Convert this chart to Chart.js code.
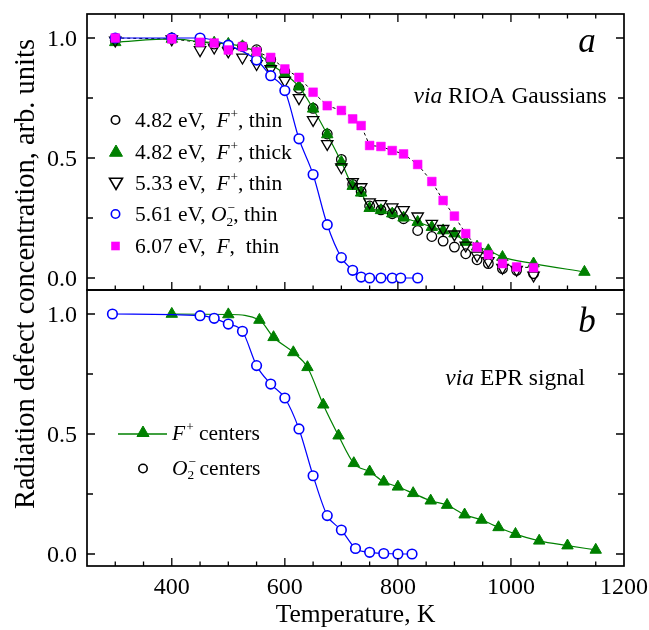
<!DOCTYPE html>
<html><head><meta charset="utf-8">
<script src="https://cdn.jsdelivr.net/npm/chart.js@4.4.1/dist/chart.umd.min.js"></script>
<style>
html,body{margin:0;padding:0;background:#fff;}
#wrap{position:relative;width:649px;height:630px;background:#fff;}
canvas{position:absolute;left:0;top:0;}
</style></head>
<body><div id="wrap"><canvas id="cb" width="649" height="630"></canvas><canvas id="ca" width="649" height="630"></canvas></div>
<script>
// ---------- data (panel a: RIOA Gaussians) ----------
const tCircThin = [300,400,450,475,500,525,550,575,600,625,650,675,700,720,735,750,770,790,810,835,860,880,900,920,940,960,985,1010,1040];
const vCircThin = [0.99,1.0,0.99,0.975,0.97,0.965,0.951,0.91,0.86,0.79,0.707,0.60,0.494,0.39,0.36,0.30,0.284,0.268,0.247,0.198,0.173,0.154,0.129,0.101,0.076,0.06,0.039,0.032,0.018];

const tTriThick = [300,400,450,475,500,525,550,575,600,625,650,675,700,720,735,750,770,790,810,835,860,880,900,920,940,960,985,1040,1130];
const vTriThick = [0.982,0.996,0.985,0.98,0.975,0.965,0.94,0.892,0.85,0.797,0.705,0.598,0.483,0.383,0.355,0.291,0.282,0.268,0.251,0.233,0.212,0.198,0.185,0.15,0.13,0.115,0.087,0.06,0.025];

const tDownThin = [300,400,450,475,500,525,550,575,600,625,650,675,700,720,735,750,770,790,810,835,860,880,900,920,940,960,985,1010,1040];
const vDownThin = [0.99,0.995,0.95,0.961,0.945,0.919,0.892,0.871,0.822,0.75,0.659,0.559,0.462,0.40,0.379,0.316,0.309,0.295,0.284,0.257,0.226,0.205,0.182,0.136,0.094,0.071,0.043,0.035,0.011];

const tO2Thin = [300,400,450,500,550,575,600,625,650,675,700,720,735,750,770,790,805,835];
const vO2Thin = [1.0,1.0,1.0,0.97,0.908,0.843,0.781,0.58,0.431,0.222,0.085,0.032,0.004,0.0,0.0,0.0,0.0,0.0];

const tFThin = [300,400,450,475,500,525,550,575,600,625,650,675,700,720,735,750,770,790,810,835,860,880,900,920,940,960,985,1010,1040];
const vFThin = [1.0,0.996,0.982,0.979,0.95,0.964,0.943,0.919,0.871,0.836,0.774,0.718,0.698,0.663,0.635,0.552,0.548,0.531,0.517,0.473,0.402,0.323,0.258,0.185,0.129,0.097,0.06,0.046,0.043];

// ---------- data (panel b: EPR signal) ----------
const tEprO2 = [295,450,475,500,525,550,575,600,625,650,675,700,725,750,775,800,825];
const vEprO2 = [1.0,0.993,0.982,0.958,0.928,0.785,0.708,0.65,0.521,0.326,0.16,0.1,0.023,0.007,0.002,0.0,0.0];

const tEprF = [400,500,555,580,615,640,668,695,722,750,775,800,827,858,887,918,948,978,1008,1050,1100,1150];
const vEprF = [1.0,0.998,0.975,0.903,0.84,0.778,0.622,0.493,0.378,0.343,0.301,0.28,0.253,0.222,0.204,0.164,0.142,0.111,0.083,0.055,0.035,0.017];

// ---------- axes ----------
const xTickLabels = ['400','600','800','1000','1200'];
const yTickLabels = ['0.0','0.5','1.0'];
const xMinorStep = 50;
const yMinorStep = 0.25;
const xTitle = 'Temperature, K';
const yTitle = 'Radiation defect concentration, arb. units';

const FONT = '"Liberation Serif","Times New Roman",serif';
const GREEN = '#008000', BLUE = '#0000ff', PINK = '#ff00ff';

const pts = (t, v) => t.map((x, i) => ({x: x, y: v[i]}));

function rich(ctx, x, y, parts, size, align) {
  const seg = []; let w = 0;
  parts.forEach(p => {
    const small = p.sup || p.sub;
    const fs = small ? size * 0.62 : size;
    const font = (p.it ? 'italic ' : '') + fs.toFixed(1) + 'px ' + FONT;
    ctx.font = font;
    const mw = ctx.measureText(p.t).width;
    const k = p.kern || 0;
    seg.push({t: p.t, font, dx: w + k, dy: p.sup ? -size * 0.40 : (p.sub ? size * 0.22 : 0)});
    if (!p.stack) w += mw + k;
  });
  const x0 = align === 'right' ? x - w : x;
  seg.forEach(s => { ctx.font = s.font; ctx.fillText(s.t, x0 + s.dx, y + s.dy); });
}

function marker(ctx, style, x, y, r, fill, stroke, lw) {
  ctx.save();
  ctx.beginPath();
  if (style === 'circle') ctx.arc(x, y, r, 0, Math.PI * 2);
  else if (style === 'tri') { ctx.moveTo(x, y - r); ctx.lineTo(x + r * 0.866, y + r * 0.5); ctx.lineTo(x - r * 0.866, y + r * 0.5); ctx.closePath(); }
  else if (style === 'down') { ctx.moveTo(x, y + r); ctx.lineTo(x + r * 0.866, y - r * 0.5); ctx.lineTo(x - r * 0.866, y - r * 0.5); ctx.closePath(); }
  else if (style === 'rect') { ctx.rect(x - r, y - r, 2 * r, 2 * r); }
  if (fill) { ctx.fillStyle = fill; ctx.fill(); }
  if (stroke) { ctx.strokeStyle = stroke; ctx.lineWidth = lw; ctx.stroke(); }
  ctx.restore();
}

function frame(chart, topTicks) {
  const {ctx, chartArea: a} = chart; const x = chart.scales.x, y = chart.scales.y;
  ctx.save();
  ctx.strokeStyle = '#000';
  ctx.lineWidth = 1.3;
  ctx.beginPath();
  const xMaj = xTickLabels.map(Number);
  for (let v = x.min + xMinorStep; v < x.max - 1; v += xMinorStep) {
    const px = x.getPixelForValue(v);
    const len = xMaj.includes(v) ? 8 : 4.5;
    ctx.moveTo(px, a.bottom); ctx.lineTo(px, a.bottom - len);
    if (topTicks) { ctx.moveTo(px, a.top); ctx.lineTo(px, a.top + len); }
  }
  const yMaj = yTickLabels.map(Number);
  for (let v = 0; v <= 1.0001; v += yMinorStep) {
    const py = y.getPixelForValue(v);
    const len = yMaj.some(m => Math.abs(m - v) < 1e-6) ? 8 : 6;
    ctx.moveTo(a.left, py); ctx.lineTo(a.left + len, py);
    ctx.moveTo(a.right, py); ctx.lineTo(a.right - len, py);
  }
  ctx.stroke();
  ctx.lineWidth = 1.7;
  ctx.strokeRect(a.left, a.top, a.right - a.left, a.bottom - a.top);
  ctx.fillStyle = '#000';
  ctx.font = '24px ' + FONT; ctx.textAlign = 'right'; ctx.textBaseline = 'alphabetic';
  yTickLabels.forEach(l => ctx.fillText(l, a.left - 10, y.getPixelForValue(Number(l)) + 8.2));
  ctx.restore();
}

const topPlugin = {
  id: 'topDecor',
  afterDraw(chart) {
    const ctx = chart.ctx;
    frame(chart, true);
    ctx.save();
    ctx.fillStyle = '#000'; ctx.textBaseline = 'alphabetic';
    ctx.font = 'italic 35px ' + FONT; ctx.textAlign = 'center';
    ctx.fillText('a', 587, 52);
    ctx.textAlign = 'left';
    rich(ctx, 606.7, 103, [{t: 'via', it: true}, {t: ' RIOA Gaussians'}], 23.5, 'right');
    const s = 21.5, tx = 135;
    rich(ctx, tx, 127, [{t: '4.82 eV,  '}, {t: 'F', it: true}, {t: '+', sup: true, kern: 1}, {t: ', thin'}], s);
    rich(ctx, tx, 158.5, [{t: '4.82 eV,  '}, {t: 'F', it: true}, {t: '+', sup: true, kern: 1}, {t: ', thick'}], s);
    rich(ctx, tx, 190, [{t: '5.33 eV,  '}, {t: 'F', it: true}, {t: '+', sup: true, kern: 1}, {t: ', thin'}], s);
    rich(ctx, tx, 221, [{t: '5.61 eV, '}, {t: 'O', it: true}, {t: '\u2212', sup: true, stack: true, kern: 1}, {t: '2', sub: true}, {t: ', thin'}], s);
    rich(ctx, tx, 252.5, [{t: '6.07 eV,  '}, {t: 'F', it: true}, {t: ',  thin'}], s);
    marker(ctx, 'circle', 115.5, 120, 4.2, null, '#000', 1.6);
    marker(ctx, 'tri', 116, 152.5, 7.5, GREEN, GREEN, 1);
    marker(ctx, 'down', 116, 182, 7.5, null, '#000', 1.6);
    marker(ctx, 'circle', 115.5, 214, 4.2, null, BLUE, 1.6);
    marker(ctx, 'rect', 115.5, 246, 4.3, PINK, null, 0);
    ctx.restore();
  }
};

const botPlugin = {
  id: 'botDecor',
  afterDraw(chart) {
    const ctx = chart.ctx; const a = chart.chartArea; const x = chart.scales.x;
    frame(chart, false);
    ctx.save();
    ctx.fillStyle = '#000'; ctx.textBaseline = 'alphabetic';
    ctx.font = '24px ' + FONT; ctx.textAlign = 'center';
    xTickLabels.forEach(l => ctx.fillText(l, x.getPixelForValue(Number(l)), 593.5));
    ctx.font = '25.5px ' + FONT;
    ctx.fillText(xTitle, (a.left + a.right) / 2, 622);
    ctx.save();
    ctx.translate(34, 274); ctx.rotate(-Math.PI / 2);
    ctx.font = '28.5px ' + FONT; ctx.textAlign = 'center';
    ctx.fillText(yTitle, 0, 0);
    ctx.restore();
    ctx.font = 'italic 35px ' + FONT; ctx.textAlign = 'center';
    ctx.fillText('b', 587, 331.5);
    ctx.textAlign = 'left';
    rich(ctx, 585, 385, [{t: 'via', it: true}, {t: ' EPR signal'}], 23.5, 'right');
    // legend
    ctx.strokeStyle = GREEN; ctx.lineWidth = 1.3;
    ctx.beginPath(); ctx.moveTo(118, 434); ctx.lineTo(167, 434); ctx.stroke();
    marker(ctx, 'tri', 143, 433, 7, GREEN, GREEN, 1);
    marker(ctx, 'circle', 143, 468.5, 4.2, null, '#000', 1.6);
    rich(ctx, 172, 439.5, [{t: 'F', it: true}, {t: '+', sup: true, kern: 1}, {t: ' centers'}], 21.5);
    rich(ctx, 172, 474.5, [{t: 'O', it: true}, {t: '\u2212', sup: true, stack: true, kern: 1}, {t: '2', sub: true}, {t: ' centers'}], 21.5);
    ctx.restore();
  }
};

const baseOpts = (pad) => ({
  responsive: false, animation: false, devicePixelRatio: 1,
  layout: {padding: pad},
  scales: {
    x: {type: 'linear', min: 250, max: 1200, display: false},
    y: {type: 'linear', min: -0.05, max: 1.1, display: false}
  },
  plugins: {legend: {display: false}, tooltip: {enabled: false}},
  elements: {point: {hoverRadius: 0}}
});

new Chart(document.getElementById('ca'), {
  type: 'scatter',
  data: {datasets: [
    {label: '6.07 eV, F, thin', data: pts(tFThin, vFThin), order: 1, showLine: false,
     pointStyle: 'rect', pointRadius: 6.2, pointBackgroundColor: PINK, pointBorderColor: PINK, pointBorderWidth: 0.5, clip: false},
    {label: '5.61 eV, O2-, thin', data: pts(tO2Thin, vO2Thin), order: 2, showLine: true,
     borderColor: BLUE, borderWidth: 1.2, cubicInterpolationMode: 'monotone',
     pointStyle: 'circle', pointRadius: 4.8, pointBackgroundColor: '#fff', pointBorderColor: BLUE, pointBorderWidth: 1.6, clip: false},
    {label: '5.33 eV, F+, thin', data: pts(tDownThin, vDownThin), order: 3, showLine: false,
     pointStyle: 'triangle', rotation: 180, pointRotation: 180, pointRadius: 6.6, pointBackgroundColor: 'rgba(0,0,0,0)', pointBorderColor: '#000', pointBorderWidth: 1.3, clip: false},
    {label: '4.82 eV, F+, thick', data: pts(tTriThick, vTriThick), order: 4, showLine: true,
     borderColor: GREEN, borderWidth: 1.2, cubicInterpolationMode: 'monotone',
     pointStyle: 'triangle', pointRadius: 6.6, pointBackgroundColor: GREEN, pointBorderColor: GREEN, pointBorderWidth: 1, clip: false},
    {label: '4.82 eV, F+, thin', data: pts(tCircThin, vCircThin), order: 5, showLine: false,
     pointStyle: 'circle', pointRadius: 4.8, pointBackgroundColor: 'rgba(0,0,0,0)', pointBorderColor: '#000', pointBorderWidth: 1.3, clip: false},
    {label: 'F line', data: pts(tFThin, vFThin), order: 6, showLine: true,
     borderColor: '#000', borderWidth: 1, borderDash: [3, 3], pointRadius: 0, clip: false}
  ]},
  options: baseOpts({left: 87, right: 25, top: 14, bottom: 340}),
  plugins: [topPlugin]
});

new Chart(document.getElementById('cb'), {
  type: 'scatter',
  data: {datasets: [
    {label: 'O2- centers', data: pts(tEprO2, vEprO2), order: 1, showLine: true,
     borderColor: BLUE, borderWidth: 1.2, cubicInterpolationMode: 'monotone',
     pointStyle: 'circle', pointRadius: 4.8, pointBackgroundColor: '#fff', pointBorderColor: BLUE, pointBorderWidth: 1.6, clip: false},
    {label: 'F+ centers', data: pts(tEprF, vEprF), order: 2, showLine: true,
     borderColor: GREEN, borderWidth: 1.2, cubicInterpolationMode: 'monotone',
     pointStyle: 'triangle', pointRadius: 6.6, pointBackgroundColor: GREEN, pointBorderColor: GREEN, pointBorderWidth: 1, clip: false}
  ]},
  options: baseOpts({left: 87, right: 25, top: 290, bottom: 64}),
  plugins: [botPlugin]
});
</script>
</body></html>
